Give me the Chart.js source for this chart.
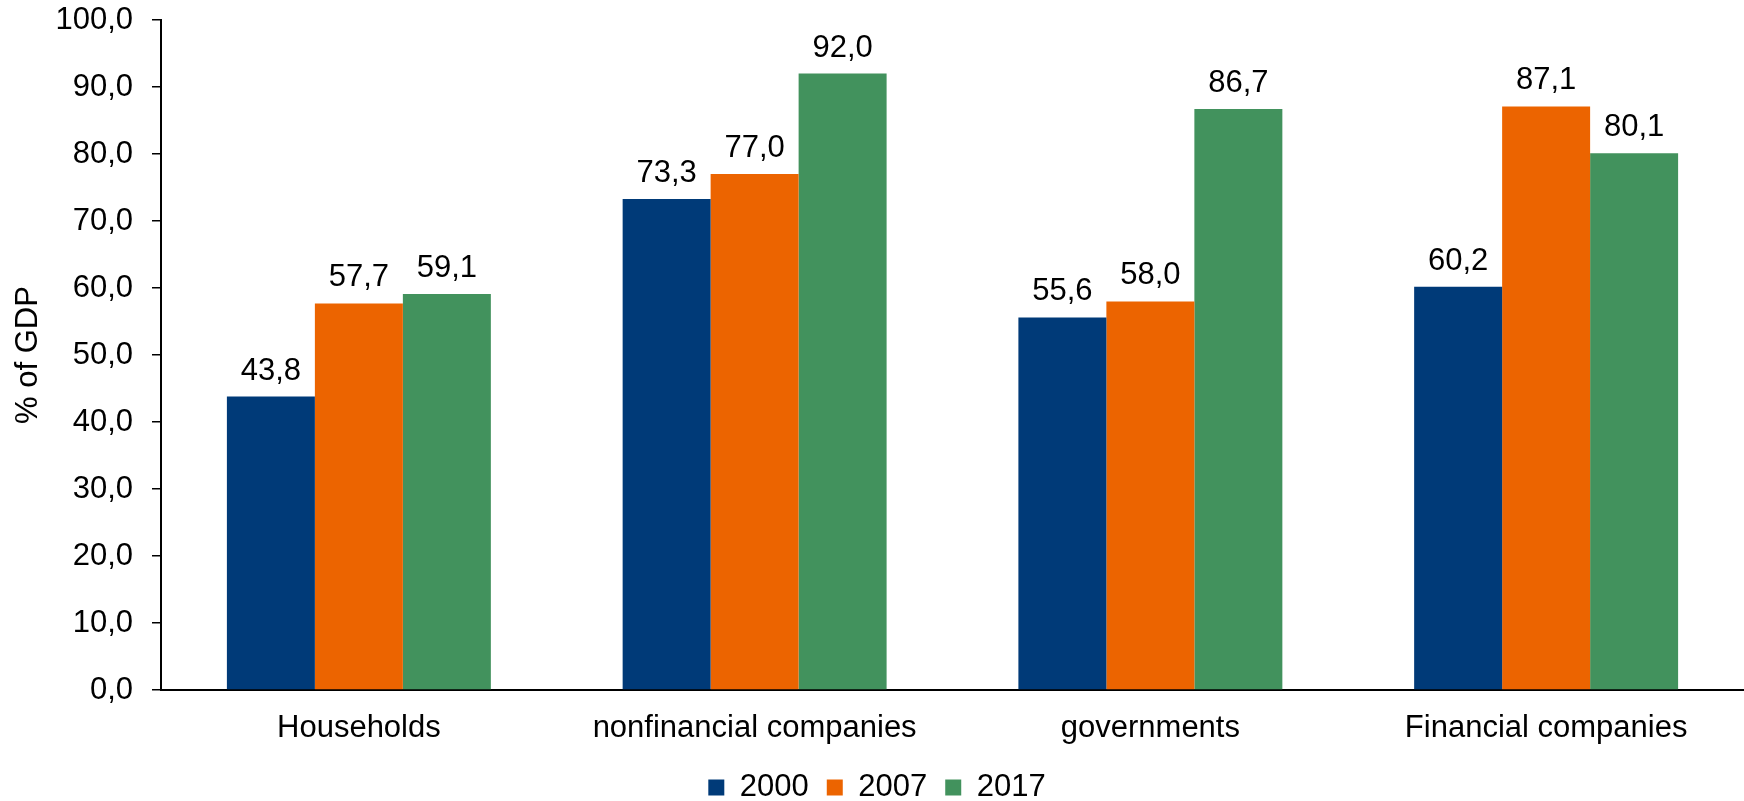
<!DOCTYPE html>
<html>
<head>
<meta charset="utf-8">
<script src="https://cdn.jsdelivr.net/npm/chart.js@4"></script>
<style>
  html,body{margin:0;padding:0;background:#fff;}
  #wrap{width:1744px;height:801px;}
</style>
</head>
<body>
<div id="wrap"><canvas id="chart"></canvas></div>
<script>
const categories=['Households','nonfinancial companies','governments','Financial companies'];
const years=['2000','2007','2017'];
const values2000=[43.8,73.3,55.6,60.2];
const values2007=[57.7,77.0,58.0,87.1];
const values2017=[59.1,92.0,86.7,80.1];
const colors=['#003a78','#ec6400','#42925d'];

const FONT='Arial, "Liberation Sans", sans-serif';
const fmt=v=>v.toFixed(1).replace('.',',');

/* data labels above the bars */
const barLabels={
  id:'barLabels',
  afterDatasetsDraw(chart){
    const ctx=chart.ctx;
    ctx.save();
    ctx.font='31px '+FONT;
    ctx.fillStyle='#000';
    ctx.textAlign='center';
    ctx.textBaseline='alphabetic';
    chart.data.datasets.forEach((ds,i)=>{
      chart.getDatasetMeta(i).data.forEach((bar,j)=>{
        ctx.fillText(fmt(ds.data[j]),bar.x,bar.y-17);
      });
    });
    ctx.restore();
  }
};

new Chart(document.getElementById('chart'),{
  type:'bar',
  data:{
    labels:categories,
    datasets:[values2000,values2007,values2017].map((d,i)=>({
      label:years[i],
      data:d,
      backgroundColor:colors[i],
      borderWidth:0,
      categoryPercentage:0.667,
      barPercentage:1.0
    }))
  },
  options:{
    responsive:true,
    maintainAspectRatio:false,
    animation:false,
    layout:{padding:{top:20,right:0,left:10,bottom:-12}},
    plugins:{
      legend:{
        position:'bottom',
        labels:{
          boxWidth:16,boxHeight:16,padding:18,color:'#000',
          font:{family:FONT,size:31,lineHeight:1.0}
        }
      },
      tooltip:{enabled:false}
    },
    scales:{
      x:{
        grid:{display:true,drawOnChartArea:false,drawTicks:false},
        border:{display:true,color:'#000',width:2},
        ticks:{color:'#000',padding:20,font:{family:FONT,size:31}},
        afterFit(scale){scale.height=64;}
      },
      y:{
        min:0,max:100,
        grid:{display:true,drawOnChartArea:false,drawTicks:true,tickLength:9,color:'#000',lineWidth:1.5},
        border:{display:true,color:'#000',width:2},
        // tiny lineHeight so the top label does not push the plot down
        ticks:{stepSize:10,color:'#000',padding:19,font:{family:FONT,size:31,lineHeight:0.05},callback:v=>fmt(v)},
        title:{display:true,text:'% of GDP',color:'#000',font:{family:FONT,size:31},padding:{top:0,bottom:0}},
        afterFit(scale){scale.width=151;}
      }
    }
  },
  plugins:[barLabels]
});
</script>
</body>
</html>
